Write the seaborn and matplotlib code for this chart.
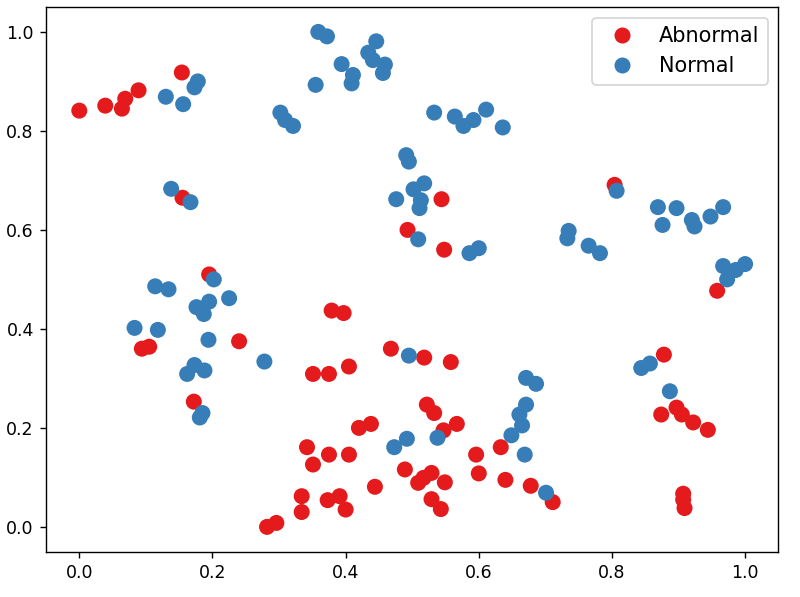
import numpy as np
import pandas as pd
import seaborn as sns
import matplotlib
matplotlib.use('Agg')
import matplotlib.pyplot as plt

# 값은 그림에서 읽은 추정치 (0~1 정규화 좌표)
abnormal_x = [0.000, 0.039, 0.064, 0.069, 0.089, 0.154, 0.155, 0.195, 0.094, 0.105,
              0.240, 0.172, 0.379, 0.397, 0.351, 0.375, 0.405, 0.468, 0.420, 0.438,
              0.342, 0.351, 0.375, 0.405, 0.489, 0.444, 0.334, 0.334, 0.373, 0.391,
              0.400, 0.282, 0.296, 0.493, 0.544, 0.548, 0.804, 0.518, 0.558, 0.522,
              0.533, 0.547, 0.567, 0.509, 0.517, 0.529, 0.549, 0.529, 0.543, 0.596,
              0.600, 0.633, 0.640, 0.678, 0.711, 0.878, 0.874, 0.897, 0.905, 0.922,
              0.944, 0.907, 0.907, 0.909, 0.958]
abnormal_y = [0.841, 0.851, 0.845, 0.865, 0.882, 0.918, 0.665, 0.510, 0.360, 0.364,
              0.375, 0.253, 0.437, 0.432, 0.309, 0.309, 0.324, 0.360, 0.200, 0.208,
              0.161, 0.126, 0.146, 0.146, 0.116, 0.081, 0.062, 0.030, 0.054, 0.062,
              0.035, 0.000, 0.008, 0.600, 0.662, 0.560, 0.691, 0.342, 0.333, 0.247,
              0.230, 0.195, 0.208, 0.089, 0.099, 0.109, 0.090, 0.056, 0.036, 0.146,
              0.108, 0.161, 0.095, 0.083, 0.050, 0.348, 0.227, 0.241, 0.227, 0.211,
              0.196, 0.067, 0.055, 0.038, 0.477]

normal_x = [0.130, 0.156, 0.173, 0.178, 0.359, 0.372, 0.394, 0.411, 0.409, 0.355,
            0.446, 0.434, 0.441, 0.459, 0.456, 0.302, 0.309, 0.321, 0.138, 0.167,
            0.491, 0.495, 0.476, 0.502, 0.518, 0.513, 0.511, 0.509, 0.202, 0.114,
            0.134, 0.533, 0.564, 0.577, 0.592, 0.611, 0.636, 0.586, 0.600, 0.807,
            0.735, 0.733, 0.765, 0.782, 0.869, 0.897, 0.876, 0.920, 0.924, 0.948,
            0.967, 0.967, 0.986, 1.000, 0.973, 0.195, 0.176, 0.187, 0.225, 0.083,
            0.118, 0.194, 0.278, 0.162, 0.173, 0.188, 0.185, 0.181, 0.495, 0.473,
            0.492, 0.538, 0.669, 0.649, 0.665, 0.661, 0.671, 0.671, 0.686, 0.701,
            0.844, 0.857, 0.887]
normal_y = [0.869, 0.854, 0.888, 0.900, 1.000, 0.991, 0.935, 0.913, 0.896, 0.893,
            0.981, 0.958, 0.943, 0.934, 0.917, 0.837, 0.822, 0.810, 0.683, 0.656,
            0.751, 0.738, 0.662, 0.682, 0.694, 0.660, 0.644, 0.581, 0.500, 0.486,
            0.480, 0.837, 0.829, 0.810, 0.822, 0.843, 0.807, 0.553, 0.563, 0.679,
            0.598, 0.583, 0.568, 0.553, 0.646, 0.644, 0.610, 0.620, 0.607, 0.627,
            0.646, 0.527, 0.519, 0.531, 0.500, 0.455, 0.444, 0.430, 0.462, 0.402,
            0.398, 0.378, 0.334, 0.309, 0.327, 0.316, 0.230, 0.221, 0.346, 0.161,
            0.178, 0.180, 0.146, 0.185, 0.205, 0.227, 0.247, 0.301, 0.289, 0.069,
            0.321, 0.330, 0.274]

df = pd.DataFrame({
    'x': abnormal_x + normal_x,
    'y': abnormal_y + normal_y,
    'label': ['Abnormal'] * len(abnormal_x) + ['Normal'] * len(normal_x),
})

fig, ax = plt.subplots(figsize=(6.4, 4.776), dpi=125)
sns.scatterplot(data=df, x='x', y='y', hue='label', palette='Set1',
                s=85, linewidth=0, ax=ax)
ax.set_xlabel('')
ax.set_ylabel('')
ax.legend(loc='upper right', fontsize=12)

fig.subplots_adjust(left=0.0575, right=0.973, bottom=0.076, top=0.988)
plt.savefig('out.png', dpi=125)
